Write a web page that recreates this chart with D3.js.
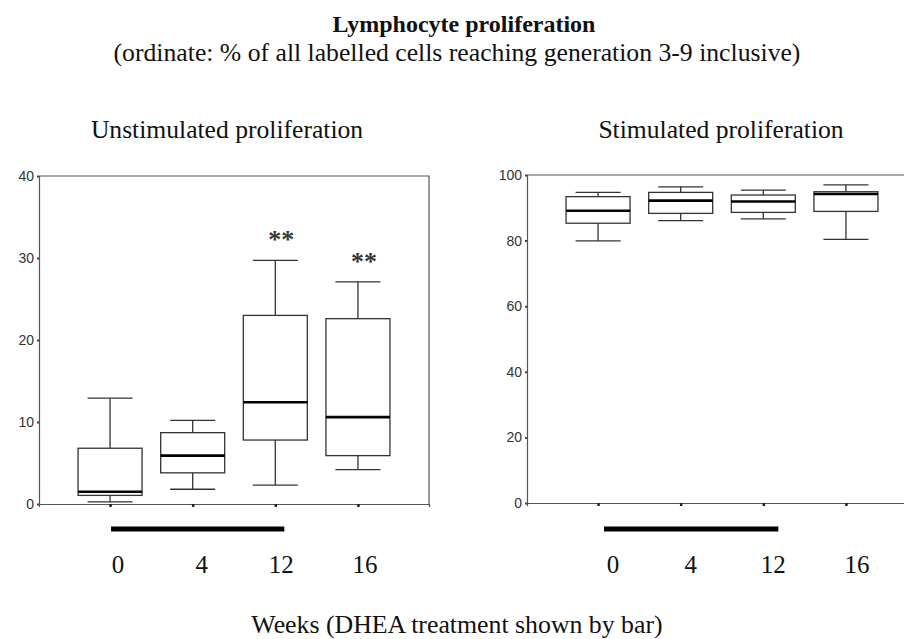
<!DOCTYPE html>
<html>
<head>
<meta charset="utf-8">
<script src="https://cdn.jsdelivr.net/npm/d3@7"></script>
<style>
  body { margin: 0; background: #fff; }
  svg text { fill: #111; }
</style>
</head>
<body>
<svg id="chart" width="904" height="639"></svg>
<script>
// Weeks of follow-up (category labels)
const weeks = ['0', '4', '12', '16'];
const treatmentWeeks = ['0', '12'];

// Unstimulated proliferation (% of cells reaching generation 3-9)
const unstimLow    = [0.25, 1.8, 2.3, 4.2];
const unstimQ1     = [1.05, 3.8, 7.8, 5.9];
const unstimMedian = [1.5, 5.9, 12.4, 10.6];
const unstimQ3     = [6.8, 8.7, 23.0, 22.6];
const unstimHigh   = [12.9, 10.2, 29.7, 27.1];
const unstimSignif = ['', '', '**', '**'];

// Stimulated proliferation
const stimLow    = [79.9, 86.1, 86.6, 80.4];
const stimQ1     = [85.3, 88.3, 88.6, 88.9];
const stimMedian = [89.1, 92.2, 91.9, 94.2];
const stimQ3     = [93.4, 94.7, 93.9, 94.9];
const stimHigh   = [94.7, 96.4, 95.4, 97.0];

const unstimTicks = [0, 10, 20, 30, 40];
const stimTicks = [0, 20, 40, 60, 80, 100];

const svg = d3.select('#chart');
const serif = '"Liberation Serif", "Times New Roman", serif';
const sans = '"Liberation Sans", Arial, sans-serif';

// Titles
svg.append('text')
  .attr('x', 464).attr('y', 32)
  .attr('text-anchor', 'middle')
  .style('font-family', serif).style('font-size', '24px').style('font-weight', 'bold')
  .text('Lymphocyte proliferation');
svg.append('text')
  .attr('x', 457).attr('y', 61)
  .attr('text-anchor', 'middle')
  .style('font-family', serif).style('font-size', '25.7px')
  .text('(ordinate: % of all labelled cells reaching generation 3-9 inclusive)');
svg.append('text')
  .attr('x', 457).attr('y', 633)
  .attr('text-anchor', 'middle')
  .style('font-family', serif).style('font-size', '25.8px')
  .text('Weeks (DHEA treatment shown by bar)');

function buildRows(low, q1, med, q3, high) {
  return weeks.map((w, i) => ({ week: w, low: low[i], q1: q1[i], med: med[i], q3: q3[i], high: high[i] }));
}

function drawPanel(opts) {
  const { left, top, width, height, domain, ticks, rows, title, labelDx, barDx, signif } = opts;
  const g = svg.append('g').attr('transform', `translate(${left},${top})`);

  const x = d3.scalePoint().domain(weeks).range([0, width]).padding(0.86);
  const y = d3.scaleLinear().domain(domain).range([height, 0]);

  // panel title
  svg.append('text')
    .attr('x', title.x).attr('y', 138)
    .attr('text-anchor', 'middle')
    .style('font-family', serif).style('font-size', '25.6px')
    .text(title.text);

  // frame (top and right)
  g.append('path')
    .attr('d', `M0,0H${width}V${height}`)
    .attr('fill', 'none').attr('stroke', '#555').attr('stroke-width', 1.2);

  // y axis
  const yAxis = g.append('g')
    .call(d3.axisLeft(y).tickValues(ticks).tickSize(2).tickPadding(3));
  yAxis.select('.domain').attr('stroke', '#555').attr('stroke-width', 1.2);
  yAxis.selectAll('.tick line').attr('stroke', '#444').attr('stroke-width', 2);
  yAxis.selectAll('text')
    .style('font-family', sans).style('font-size', '14px')
    .style('fill', '#333');

  // x axis with tiny ticks only
  const xAxis = g.append('g')
    .attr('transform', `translate(0,${height})`)
    .call(d3.axisBottom(x).tickSize(3).tickFormat(''));
  xAxis.select('.domain').attr('stroke', '#555').attr('stroke-width', 1.2);
  xAxis.selectAll('.tick line').attr('stroke', '#222').attr('stroke-width', 2.5);

  // category labels below the treatment bar
  g.selectAll('.cat')
    .data(weeks)
    .enter()
    .append('text')
    .attr('class', 'cat')
    .attr('x', (d, i) => x(d) + labelDx[i])
    .attr('y', 573 - top)
    .attr('text-anchor', 'middle')
    .style('font-family', serif).style('font-size', '25px')
    .text(d => d);

  // treatment bar
  g.append('line')
    .attr('x1', x(treatmentWeeks[0]) + barDx[0])
    .attr('x2', x(treatmentWeeks[1]) + barDx[1])
    .attr('y1', 529 - top).attr('y2', 529 - top)
    .attr('stroke', '#000').attr('stroke-width', 5);

  const boxW = 64;
  const capW = 45;
  const boxes = g.selectAll('.box')
    .data(rows)
    .enter()
    .append('g')
    .attr('class', 'box')
    .attr('transform', d => `translate(${x(d.week)},0)`);

  // whiskers
  boxes.append('line')
    .attr('x1', 0).attr('x2', 0)
    .attr('y1', d => y(d.high)).attr('y2', d => y(d.q3))
    .attr('stroke', '#333').attr('stroke-width', 1.3);
  boxes.append('line')
    .attr('x1', 0).attr('x2', 0)
    .attr('y1', d => y(d.q1)).attr('y2', d => y(d.low))
    .attr('stroke', '#333').attr('stroke-width', 1.3);
  // caps
  boxes.append('line')
    .attr('x1', -capW / 2).attr('x2', capW / 2)
    .attr('y1', d => y(d.high)).attr('y2', d => y(d.high))
    .attr('stroke', '#333').attr('stroke-width', 1.3);
  boxes.append('line')
    .attr('x1', -capW / 2).attr('x2', capW / 2)
    .attr('y1', d => y(d.low)).attr('y2', d => y(d.low))
    .attr('stroke', '#333').attr('stroke-width', 1.3);
  // box
  boxes.append('rect')
    .attr('x', -boxW / 2).attr('width', boxW)
    .attr('y', d => y(d.q3))
    .attr('height', d => y(d.q1) - y(d.q3))
    .attr('fill', '#fff').attr('stroke', '#333').attr('stroke-width', 1.3);
  // median
  boxes.append('line')
    .attr('x1', -boxW / 2).attr('x2', boxW / 2)
    .attr('y1', d => y(d.med)).attr('y2', d => y(d.med))
    .attr('stroke', '#000').attr('stroke-width', 2.6);

  // significance marks
  if (signif) {
    boxes.append('text')
      .attr('x', 6)
      .attr('y', d => y(d.high) - 12)
      .attr('text-anchor', 'middle')
      .style('font-family', serif).style('font-size', '26px').style('font-weight', 'bold')
      .style('fill', '#333')
      .text((d, i) => signif[i]);
  }
}

drawPanel({
  left: 39, top: 176, width: 390, height: 328,
  domain: [0, 40], ticks: unstimTicks,
  rows: buildRows(unstimLow, unstimQ1, unstimMedian, unstimQ3, unstimHigh),
  title: { x: 227, text: 'Unstimulated proliferation' },
  labelDx: [8, 9, 6, 7], barDx: [1, 9], signif: unstimSignif
});

drawPanel({
  left: 527, top: 175, width: 390, height: 328,
  domain: [0, 100], ticks: stimTicks,
  rows: buildRows(stimLow, stimQ1, stimMedian, stimQ3, stimHigh),
  title: { x: 721, text: 'Stimulated proliferation' },
  labelDx: [15, 10, 10, 11], barDx: [6, 15], signif: null
});
</script>
</body>
</html>
